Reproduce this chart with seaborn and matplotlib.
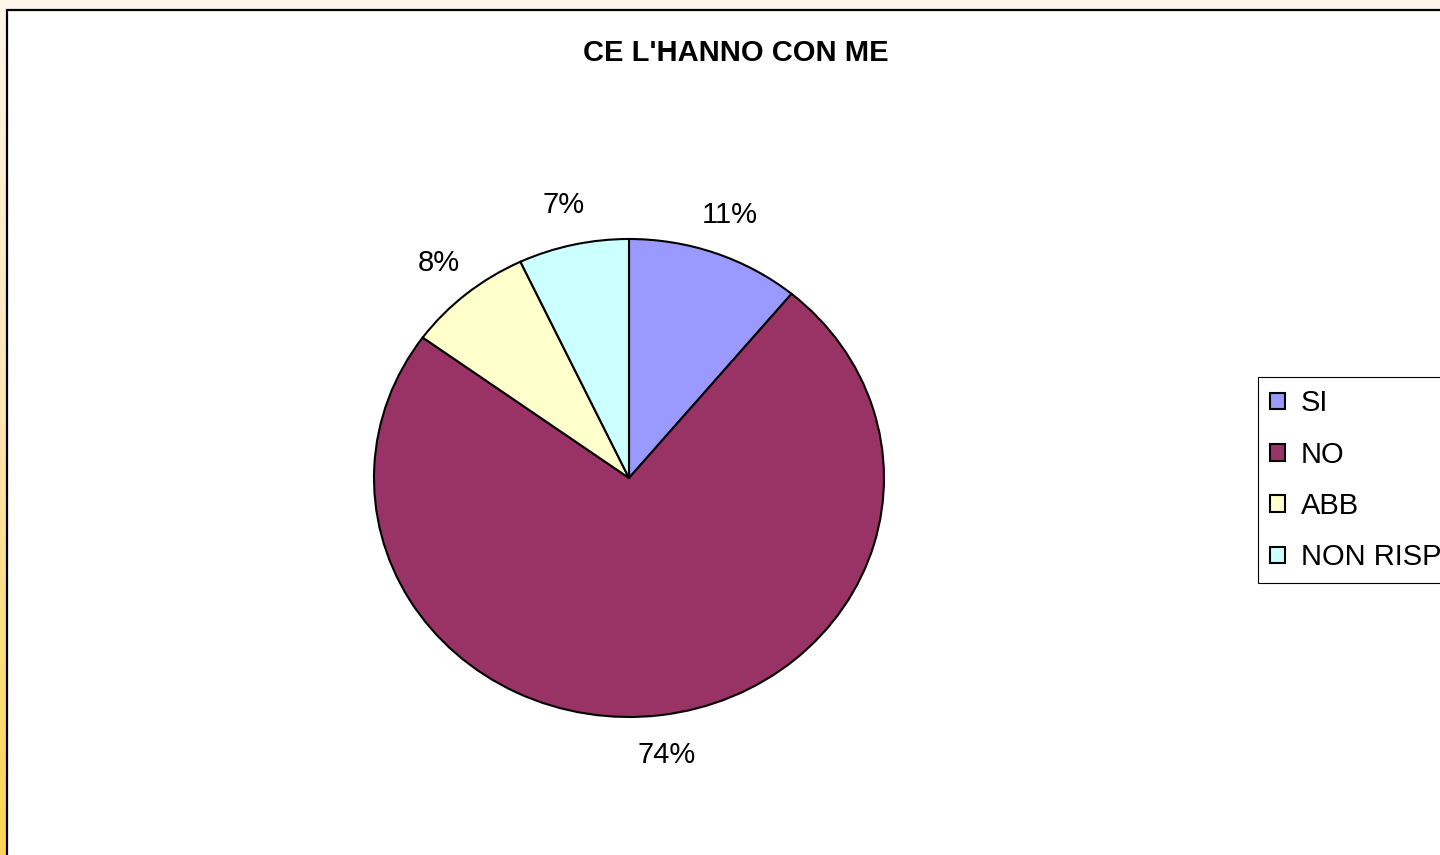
import matplotlib
matplotlib.use("Agg")
import matplotlib.pyplot as plt
import numpy as np
import seaborn as sns
from matplotlib.colors import LinearSegmentedColormap
from matplotlib.patches import Rectangle

# data
categories = ["SI", "NO", "ABB", "NON RISP"]
percentages = [11, 74, 8, 7]
slice_colors = ["#9999FF", "#993366", "#FFFFCC", "#CCFFFF"]
title_text = "CE L'HANNO CON ME"

sns.set_theme(style="white")
plt.rcParams["font.family"] = ["Liberation Sans", "DejaVu Sans"]
plt.rcParams["text.color"] = "black"

W, H = 1440, 855
fig = plt.figure(figsize=(W / 100, H / 100), dpi=100)

# background gradient (cream at top -> yellow at bottom)
bg = fig.add_axes([0, 0, 1, 1])
bg.set_axis_off()
grad = np.linspace(0, 1, 256).reshape(-1, 1)
cmap = LinearSegmentedColormap.from_list("bg", ["#FDF6EA", "#FFE6AE", "#FFD456"])
bg.imshow(grad, aspect="auto", cmap=cmap, extent=[0, 1, 0, 1], origin="upper")
bg.set_xlim(0, 1)
bg.set_ylim(0, 1)
# white chart area with black frame
bg.add_patch(Rectangle((7 / W, -0.1), 1.2, 1 - 10 / H + 0.1,
                       facecolor="white", edgecolor="black", linewidth=1.6,
                       transform=bg.transAxes, clip_on=False))

# pie axes: center (629, 478) px, radii 255 x 239 px
cx, cy, rx, ry, lim = 629, 478, 255, 239, 1.3
ax = fig.add_axes([(cx - lim * rx) / W, (H - cy - lim * ry) / H,
                   2 * lim * rx / W, 2 * lim * ry / H])
palette = sns.color_palette(slice_colors)
wedges, _, autotexts = ax.pie(
    percentages, colors=palette, startangle=90, counterclock=False,
    autopct="%1.0f%%", pctdistance=1.17,
    wedgeprops=dict(edgecolor="black", linewidth=1.5),
    textprops=dict(fontsize=21, color="black"),
)
ax.set_aspect("auto")
ax.set_xlim(-lim, lim)
ax.set_ylim(-lim, lim)
ax.set_axis_off()

fig.text(736 / W, 1 - 53 / H, title_text, ha="center", va="center",
         fontsize=21, fontweight="bold", color="black")

leg = fig.legend(wedges, categories, loc="upper left",
                 bbox_to_anchor=(1258 / W, 1 - 377 / H), borderaxespad=0,
                 fontsize=21, frameon=True, fancybox=False, framealpha=1,
                 edgecolor="black", handlelength=0.5, handleheight=0.5,
                 handletextpad=0.55, labelspacing=0.8, borderpad=0.42)
leg.get_frame().set_linewidth(0.8)
for t in leg.get_texts():
    t.set_color("black")

fig.savefig("out.png", dpi=100)
